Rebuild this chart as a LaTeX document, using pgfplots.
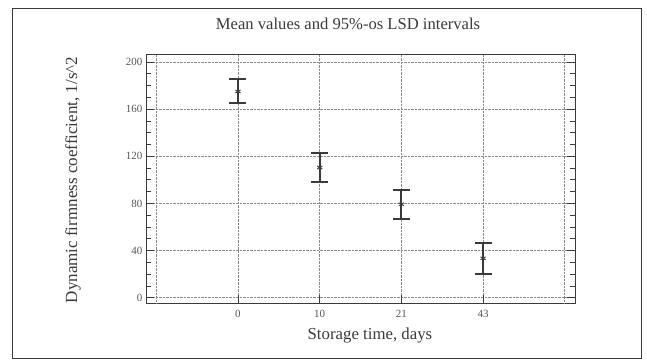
\documentclass[border=0pt]{standalone}
\usepackage{pgfplots}
\pgfplotsset{compat=1.18}
\usepackage{fontspec}
\setmainfont{Liberation Serif}
\definecolor{ink}{HTML}{3A3A3A}
\definecolor{gridc}{HTML}{8A8A8A}
\definecolor{labc}{HTML}{555555}
\begin{document}
\begin{tikzpicture}
\path[use as bounding box] (0,0) rectangle (647pt,-363pt);
\draw[ink, line width=0.9pt] (12pt,-8pt) rectangle (641pt,-358pt);
\begin{axis}[
  at={(146pt,-303pt)}, anchor=south west,
  width=429pt, height=248pt, scale only axis,
  xmin=-1.126, xmax=4.125, ymin=-4.5, ymax=206,
  xtick={0,1,2,3}, xticklabels={0,10,21,43},
  extra x ticks={-1,4}, extra x tick labels={},
  extra x tick style={major tick length=0pt, grid=major},
  ytick={0,40,80,120,160,200},
  minor y tick num=3,
  ymajorgrids, xmajorgrids,
  grid style={gridc, densely dotted, line width=0.6pt},
  axis line style={ink, line width=1pt},
  tick style={ink, line width=0.8pt},
  tick align=inside,
  major tick length=8pt, minor tick length=5pt,
  xtick pos=bottom, ytick pos=both,
  /pgf/number format/assume math mode=true,
  ticklabel style={font=\fontsize{11}{12}\selectfont, text=labc},
  xticklabel style={yshift=-4pt},
  title={Mean values and 95\%-os LSD intervals},
  title style={font=\fontsize{16.6}{18}\selectfont, text=ink, at={(rel axis cs:0.471,1.10)}, anchor=center},
  xlabel={Storage time, days},
  xlabel style={font=\fontsize{16.8}{18}\selectfont, text=ink, at={(rel axis cs:0.522,-0.132)}, anchor=center},
  ylabel={Dynamic firmness coefficient, 1/s\textasciicircum 2},
  ylabel style={font=\fontsize{17}{18}\selectfont, text=ink, at={(rel axis cs:-0.170,0.496)}, anchor=center, rotate=0},
]
\addplot[ink, only marks, mark=asterisk, mark size=3pt, line width=0.9pt,
  error bars/.cd, y dir=both, y explicit,
  error bar style={line width=1.8pt, ink},
  error mark options={line width=2pt, mark size=8.5pt, ink, rotate=90}]
  table[x=x, y=y, y error plus=ep, y error minus=em] {
x y ep em
0 175 10.6 10.0
1 110.5 12.5 12.0
2 79.3 12.2 12.8
3 33.4 13.3 13.3
};
\end{axis}
\end{tikzpicture}
\end{document}
